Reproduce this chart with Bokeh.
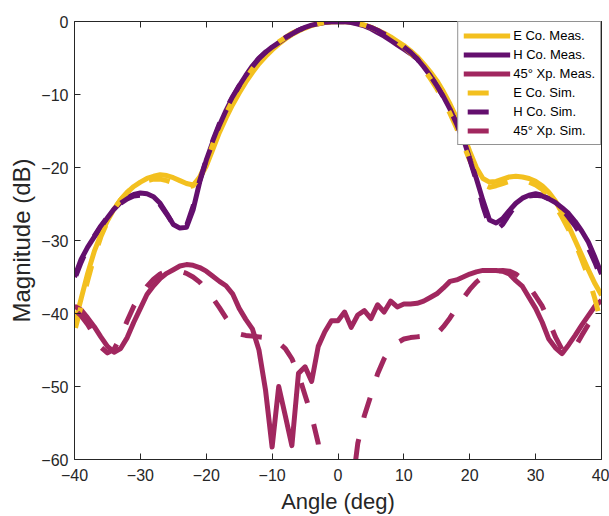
from bokeh.plotting import figure
from bokeh.models import (Range1d, FixedTicker, LinearAxis, Legend, LegendItem,
                          CustomLabelingPolicy)
from bokeh.embed import file_html
from bokeh.resources import INLINE

angles = list(range(-40, 41))

e_co_meas = [-41.5, -38.0, -34.5, -31.5, -29.2, -27.3, -25.7, -24.4, -23.4, -22.6,
             -22.0, -21.5, -21.2, -21.0, -21.1, -21.4, -21.8, -22.2, -22.4, -21.5,
             -19.8, -17.5, -15.2, -13.2, -11.4, -9.8, -8.3, -7.0, -5.8, -4.8,
             -3.9, -3.1, -2.4, -1.8, -1.3, -0.9, -0.55, -0.3, -0.12, -0.03,
             0.0,
             -0.02, -0.1, -0.25, -0.5, -0.8, -1.2, -1.6, -2.1, -2.7, -3.3,
             -4.0, -4.8, -5.8, -6.9, -8.1, -9.6, -11.3, -13.2, -15.4, -17.8,
             -20.0, -21.5, -22.0, -21.9, -21.6, -21.3, -21.2, -21.3, -21.5, -21.9,
             -22.5, -23.4, -24.6, -26.2, -28.0, -30.0, -32.0, -34.0, -35.9, -37.5]

h_co_meas = [-35.0, -32.6, -30.9, -29.5, -28.1, -26.9, -25.7, -24.8, -24.1, -23.7,
             -23.5, -23.6, -24.0, -24.9, -26.3, -27.8, -28.3, -28.2, -25.8, -22.0,
             -19.0, -16.5, -14.2, -12.2, -10.4, -8.8, -7.4, -6.1, -5.0, -4.2,
             -3.5, -2.9, -2.3, -1.7, -1.2, -0.8, -0.5, -0.3, -0.15, -0.05,
             0.0,
             -0.05, -0.15, -0.35, -0.6, -1.0, -1.5, -2.0, -2.6, -3.2, -3.8,
             -4.4, -5.1, -6.2, -7.4, -8.8, -10.3, -12.0, -14.0, -16.0, -18.8,
             -21.5, -24.5, -27.2, -27.6, -27.0, -25.9, -24.9, -24.2, -23.8, -23.6,
             -23.8, -24.3, -24.8, -25.5, -26.3, -27.4, -28.7, -30.2, -32.3, -34.6]

xp_meas = [-39.0, -39.5, -40.6, -41.8, -43.2, -44.5, -45.3, -44.8, -43.3, -41.2,
           -39.3, -37.4, -36.2, -35.2, -34.5, -34.0, -33.5, -33.3, -33.4, -33.7,
           -34.2, -34.9, -35.6, -36.2, -37.3, -39.3, -40.8, -42.1, -45.0, -50.5,
           -58.3, -50.0, -54.0, -58.1, -48.2, -47.3, -49.3, -44.5, -42.5, -41.0,
           -41.0,
           -39.8, -41.9, -40.2, -39.6, -40.7, -38.8, -39.8, -38.3, -39.1, -38.7,
           -38.7, -38.6, -38.3, -37.8, -37.3, -36.5, -35.6, -35.4, -35.0, -34.6,
           -34.3, -34.1, -34.1, -34.1, -34.2, -34.6, -35.5, -36.3, -37.8, -39.3,
           -41.2, -43.5, -44.7, -45.5, -44.3, -43.0, -41.6, -40.3, -39.0, -38.2]

e_co_sim = [-42.5, -39.0, -35.5, -32.2, -29.5, -27.4, -25.7, -24.4, -23.4, -22.6,
            -22.1, -21.8, -21.6, -21.6, -21.8, -22.1, -22.5, -22.7, -22.5, -21.3,
            -19.4, -16.8, -14.6, -12.6, -10.8, -9.2, -7.8, -6.5, -5.3, -4.3,
            -3.5, -2.8, -2.2, -1.6, -1.2, -0.8, -0.5, -0.3, -0.1, -0.03,
            0.0,
            -0.03, -0.1, -0.3, -0.5, -0.8, -1.2, -1.6, -2.2, -2.8, -3.5,
            -4.3, -5.3, -6.5, -7.8, -9.2, -10.8, -12.6, -14.6, -16.8, -19.0,
            -20.8, -22.3, -22.7, -22.5, -22.2, -21.9, -21.8, -21.8, -22.0, -22.4,
            -23.0, -24.0, -25.2, -26.8, -28.5, -30.3, -32.6, -35.0, -38.0, -41.5]

h_co_sim = [-35.3, -33.0, -31.0, -29.4, -28.0, -26.8, -25.7, -24.9, -24.3, -23.9,
            -23.8, -23.9, -24.3, -25.1, -26.4, -27.8, -28.6, -28.0, -25.3, -21.8,
            -18.9, -16.3, -14.0, -12.0, -10.3, -8.8, -7.4, -6.2, -5.1, -4.2,
            -3.5, -2.8, -2.2, -1.7, -1.2, -0.8, -0.5, -0.3, -0.12, -0.03,
            0.0,
            -0.03, -0.12, -0.3, -0.5, -0.8, -1.2, -1.7, -2.2, -2.8, -3.5,
            -4.2, -5.1, -6.2, -7.4, -8.8, -10.3, -12.0, -14.0, -16.3, -18.9,
            -21.8, -25.3, -28.0, -28.6, -27.8, -26.4, -25.1, -24.3, -23.9, -23.8,
            -23.9, -24.3, -24.9, -25.7, -26.8, -28.0, -29.4, -31.0, -33.0, -35.3]

xp_sim = [-39.5, -40.3, -41.5, -43.0, -44.6, -45.4, -44.9, -43.2, -41.0, -39.0,
          -37.6, -36.3, -35.3, -34.6, -34.2, -34.1, -34.2, -34.5, -35.0, -35.7,
          -36.7, -37.9, -39.2, -40.6, -41.8, -42.8, -43.0, -43.1, -43.2, -43.3,
          -43.5, -44.0, -44.8, -46.2, -48.3, -51.2, -54.0, -57.8, -65.0, -72.0,
          -75.0,
          -72.0, -65.0, -57.8, -54.0, -51.2, -48.3, -46.2, -44.8, -44.0, -43.5,
          -43.3, -43.2, -43.1, -43.0, -42.8, -41.8, -40.6, -39.2, -37.9, -36.7,
          -35.7, -35.0, -34.5, -34.2, -34.1, -34.2, -34.6, -35.3, -36.3, -37.6,
          -39.0, -41.0, -43.2, -44.9, -45.4, -44.6, -43.0, -41.5, -40.3, -39.5]

x_ticks = [-40, -30, -20, -10, 0, 10, 20, 30, 40]
y_ticks = [-60, -50, -40, -30, -20, -10, 0]
labels = ["E Co. Meas.", "H Co. Meas.", "45\u00b0 Xp. Meas.",
          "E Co. Sim.", "H Co. Sim.", "45\u00b0 Xp. Sim."]

YEL = "#F3C01F"
PUR = "#640F6E"
MAG = "#A1275F"
AX = "#262626"
FONT = "Liberation Sans"

p = figure(width=609, height=516, x_range=Range1d(-40, 40), y_range=Range1d(-60, 0),
           output_backend="svg", toolbar_location=None,
           min_border_left=74, min_border_right=8, min_border_top=21, min_border_bottom=57)
p.xgrid.visible = False
p.ygrid.visible = False
p.outline_line_color = None
p.background_fill_color = "white"
p.border_fill_color = "white"

p.add_layout(LinearAxis(), "above")
p.add_layout(LinearAxis(), "right")

no_labels = CustomLabelingPolicy(code="return new Set()")

def style_axis(ax, ticks, show_labels):
    ax.ticker = FixedTicker(ticks=ticks)
    ax.major_tick_in = 6
    ax.major_tick_out = 0
    ax.minor_tick_line_color = None
    ax.axis_line_color = AX
    ax.axis_line_width = 1
    ax.major_tick_line_color = AX
    ax.major_label_text_color = AX
    ax.major_label_text_font = FONT
    if show_labels:
        ax.major_label_text_font_size = "16px"
    else:
        ax.major_label_policy = no_labels
        ax.major_label_text_font_size = "1px"
        ax.major_label_standoff = 0

bottom = p.below[0]
left = p.left[0]
top = p.above[0]
right = p.right[0]
style_axis(bottom, x_ticks, True)
style_axis(top, x_ticks, False)
style_axis(left, y_ticks, True)
style_axis(right, y_ticks, False)

bottom.major_label_standoff = 9
left.major_label_standoff = 6
bottom.axis_label = "Angle (deg)"
left.axis_label = "Magnitude (dB)"
for ax in (bottom, left):
    ax.axis_label_text_font = FONT
    ax.axis_label_text_font_style = "normal"
    ax.axis_label_text_color = AX
bottom.axis_label_text_font_size = "22px"
left.axis_label_text_font_size = "24px"
bottom.axis_label_standoff = 5
left.axis_label_standoff = 3

lw = 5
r1 = p.line(angles, e_co_meas, line_color=YEL, line_width=lw, line_join="round")
r2 = p.line(angles, h_co_meas, line_color=PUR, line_width=lw, line_join="round")
r3 = p.line(angles, xp_meas, line_color=MAG, line_width=lw, line_join="round")
dash = dict(line_width=lw, line_dash="21 22", line_dash_offset=39, line_join="round")
r4 = p.line(angles, e_co_sim, line_color=YEL, **dash)
r5 = p.line(angles, h_co_sim, line_color=PUR, **dash)
r6 = p.line(angles, xp_sim, line_color=MAG, **dash)

legend = Legend(items=[LegendItem(label=l, renderers=[r]) for l, r in
                       zip(labels, [r1, r2, r3, r4, r5, r6])],
                location="top_right", margin=0, padding=5, spacing=2,
                glyph_width=47, glyph_height=17, label_height=17, label_standoff=3,
                label_text_font=FONT, label_text_font_size="13px",
                label_text_color="black",
                border_line_color=AX, border_line_width=1,
                background_fill_color="white", background_fill_alpha=1.0)
p.add_layout(legend)

open("out.html", "w").write(file_html(p, INLINE))
